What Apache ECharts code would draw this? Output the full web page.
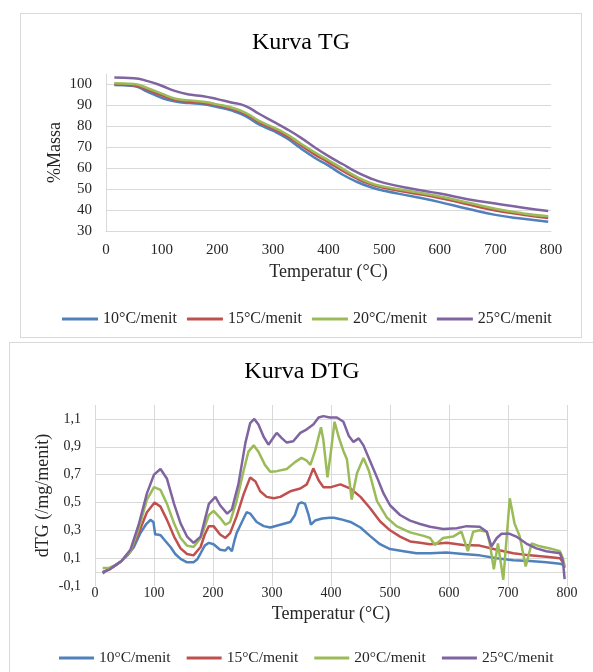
<!DOCTYPE html>
<html>
<head>
<meta charset="utf-8">
<script src="https://cdn.jsdelivr.net/npm/echarts@6/dist/echarts.min.js"></script>
<style>
  html, body { margin: 0; padding: 0; background: #fff; overflow: hidden; }
  .box { position: absolute; border: 1px solid #d9d9d9; background: #fff; }
  #tg { left: 20px; top: 13px; width: 560px; height: 323px; }
  #dtg { left: 9px; top: 342px; width: 584px; height: 340px; }
</style>
</head>
<body>
<div id="tg" class="box"></div>
<div id="dtg" class="box"></div>
<script>
const serif = 'Liberation Serif'
const names = ['10°C/menit', '15°C/menit', '20°C/menit', '25°C/menit']
const colors = ['#4F81BD', '#C0504D', '#9BBB59', '#8064A2']

// TG curve (% mass vs temperature)
const tgTemp = [15, 50, 75, 100, 125, 150, 175, 200, 225, 250, 275, 300, 325, 350, 375, 400, 425, 450, 475, 500, 550, 600, 650, 700, 750, 795]
const tg10 = [99.8, 99.3, 96.5, 93.6, 91.8, 91.1, 90.5, 89.2, 87.6, 85.0, 80.9, 77.9, 74.3, 69.5, 65.0, 61.2, 57.0, 53.6, 51.0, 49.2, 46.6, 43.8, 40.6, 37.7, 35.8, 34.4]
const tg15 = [100.0, 99.6, 97.4, 94.8, 92.6, 91.8, 91.2, 90.0, 88.4, 86.0, 82.0, 78.9, 75.4, 71.0, 66.6, 62.8, 58.8, 55.2, 52.4, 50.6, 48.2, 45.8, 42.8, 39.8, 37.8, 36.2]
const tg20 = [100.6, 100.2, 98.2, 95.6, 93.2, 92.4, 91.7, 90.5, 89.0, 86.6, 82.6, 79.6, 76.2, 71.8, 67.6, 63.8, 59.8, 56.0, 53.0, 51.2, 48.9, 46.5, 43.6, 40.6, 38.4, 37.0]
const tg25 = [103.3, 103.0, 101.6, 99.4, 96.8, 95.2, 94.4, 93.0, 91.4, 89.8, 86.0, 82.4, 78.7, 74.6, 70.0, 65.8, 62.0, 58.2, 55.2, 53.0, 50.2, 47.9, 45.2, 43.1, 41.1, 39.6]

// DTG curve, each rate read at its own temperatures
const dtgT10 = [13, 25, 35, 45, 55, 66, 77, 86, 94, 99, 102, 106, 111, 120, 128, 136, 145, 156, 167, 173, 179, 186, 193, 201, 212, 221, 226, 229, 232, 236, 240, 249, 257, 263, 274, 286, 297, 314, 331, 339, 345, 350, 356, 362, 366, 373, 385, 398, 405, 416, 433, 450, 466, 483, 500, 523, 545, 568, 596, 624, 652, 681, 709, 737, 765, 788, 793, 796]
const dtg10 = [-0.01, 0.03, 0.05, 0.08, 0.12, 0.18, 0.28, 0.34, 0.375, 0.36, 0.27, 0.27, 0.265, 0.22, 0.18, 0.13, 0.095, 0.07, 0.07, 0.09, 0.135, 0.19, 0.21, 0.2, 0.16, 0.155, 0.18, 0.17, 0.15, 0.22, 0.28, 0.36, 0.43, 0.42, 0.36, 0.33, 0.32, 0.34, 0.36, 0.41, 0.49, 0.5, 0.49, 0.41, 0.34, 0.37, 0.385, 0.39, 0.39, 0.38, 0.36, 0.32, 0.26, 0.2, 0.165, 0.15, 0.135, 0.135, 0.14, 0.13, 0.12, 0.1, 0.085, 0.08, 0.07, 0.06, 0.055, 0.04]

const dtgT15 = [13, 25, 35, 45, 60, 74, 88, 101, 111, 122, 134, 145, 156, 167, 179, 186, 193, 201, 212, 221, 229, 240, 252, 263, 272, 280, 291, 303, 314, 331, 348, 359, 364, 370, 379, 387, 400, 416, 433, 450, 466, 483, 500, 517, 534, 551, 568, 596, 624, 652, 681, 709, 737, 765, 788, 793, 796]
const dtg15 = [0.0, 0.02, 0.05, 0.08, 0.15, 0.28, 0.43, 0.5, 0.47, 0.375, 0.255, 0.17, 0.13, 0.12, 0.18, 0.27, 0.33, 0.33, 0.27, 0.245, 0.28, 0.4, 0.56, 0.68, 0.65, 0.58, 0.54, 0.53, 0.54, 0.58, 0.6, 0.63, 0.68, 0.745, 0.66, 0.61, 0.61, 0.63, 0.6, 0.54, 0.46, 0.365, 0.3, 0.255, 0.22, 0.21, 0.2, 0.21, 0.195, 0.19, 0.16, 0.135, 0.12, 0.11, 0.1, 0.07, 0.03]

const dtgT20 = [13, 25, 35, 45, 60, 74, 88, 100, 111, 122, 134, 145, 156, 167, 179, 193, 201, 212, 221, 229, 240, 252, 260, 269, 277, 288, 297, 308, 325, 339, 350, 359, 365, 373, 383, 387, 394, 400, 406, 413, 421, 427, 435, 444, 455, 464, 478, 495, 511, 534, 557, 568, 576, 590, 607, 621, 632, 641, 652, 664, 669, 676, 683, 692, 703, 711, 720, 730, 740, 754, 771, 788, 793, 796]
const dtg20 = [0.03, 0.03, 0.05, 0.08, 0.15, 0.31, 0.52, 0.61, 0.59, 0.49, 0.35, 0.245, 0.19, 0.18, 0.245, 0.41, 0.44, 0.39, 0.34, 0.36, 0.51, 0.73, 0.865, 0.91, 0.865, 0.77, 0.72, 0.725, 0.74, 0.79, 0.82, 0.8, 0.77, 0.87, 1.04, 0.95, 0.68, 0.87, 1.08, 0.97, 0.87, 0.81, 0.52, 0.71, 0.82, 0.73, 0.51, 0.39, 0.33, 0.285, 0.26, 0.245, 0.195, 0.245, 0.255, 0.29, 0.15, 0.29, 0.3, 0.29, 0.21, 0.02, 0.205, -0.055, 0.53, 0.35, 0.255, 0.04, 0.205, 0.185, 0.17, 0.15, 0.1, 0.04]

const dtgT25 = [13, 25, 35, 45, 60, 74, 88, 100, 111, 122, 134, 145, 156, 167, 179, 193, 204, 212, 224, 232, 243, 255, 263, 270, 277, 286, 294, 303, 308, 317, 325, 336, 348, 359, 370, 379, 387, 398, 410, 421, 430, 438, 447, 455, 466, 478, 489, 500, 517, 534, 551, 568, 590, 613, 630, 652, 664, 672, 681, 689, 703, 714, 731, 748, 765, 788, 793, 796]
const dtg25 = [0.0, 0.02, 0.05, 0.08, 0.16, 0.34, 0.565, 0.7, 0.74, 0.67, 0.49, 0.35, 0.255, 0.21, 0.255, 0.49, 0.54, 0.48, 0.42, 0.45, 0.63, 0.93, 1.07, 1.1, 1.06, 0.97, 0.915, 0.97, 1.0, 0.96, 0.93, 0.94, 1.0, 1.025, 1.06, 1.11, 1.12, 1.11, 1.11, 1.08, 0.98, 0.935, 0.96, 0.91, 0.8, 0.68, 0.565, 0.48, 0.41, 0.37, 0.345, 0.325, 0.31, 0.315, 0.33, 0.325, 0.29, 0.185, 0.245, 0.275, 0.275, 0.255, 0.205, 0.17, 0.15, 0.135, 0.08, -0.05]

const pairs = (t, v) => t.map((x, i) => [x, v[i]])
const comma = v => v.toFixed(1).replace('.', ',')

const lineSeries = (sets, smooth) => sets.map((d, i) => ({
  name: names[i],
  type: 'line',
  data: d,
  smooth: smooth,
  symbol: 'none',
  lineStyle: { width: 2.5, color: colors[i] },
  itemStyle: { color: colors[i] }
}))

const legendOf = (top, left, width, gap, size) => ({
  data: names,
  top: top,
  left: left,
  padding: 0,
  icon: 'rect',
  itemWidth: width,
  itemHeight: 3,
  itemGap: gap,
  textStyle: { fontFamily: serif, fontSize: size, color: '#262626' }
})

const tgChart = echarts.init(document.getElementById('tg'))
tgChart.setOption({
  animation: false,
  title: {
    text: 'Kurva TG', left: 'center', top: 12,
    textStyle: { fontFamily: serif, fontSize: 24, fontWeight: 'normal', color: '#000' }
  },
  legend: legendOf(297, 41, 36, 10, 16),
  grid: { left: 85, right: 30, top: 60, bottom: 106 },
  xAxis: {
    type: 'value', min: 0, max: 800, interval: 100,
    name: 'Temperatur (°C)', nameLocation: 'middle', nameGap: 32,
    nameTextStyle: { fontFamily: serif, fontSize: 18, color: '#262626' },
    axisLine: { show: true, lineStyle: { color: '#d9d9d9' } },
    axisTick: { show: false },
    splitLine: { show: false },
    axisLabel: { fontFamily: serif, fontSize: 15, color: '#262626', margin: 12 }
  },
  yAxis: {
    type: 'value', min: 30, max: 105, interval: 10,
    name: '%Massa', nameLocation: 'middle', nameGap: 42, nameMoveOverlap: false,
    nameTextStyle: { fontFamily: serif, fontSize: 18, color: '#262626' },
    axisLine: { show: true, lineStyle: { color: '#d9d9d9' } },
    axisTick: { show: false },
    splitLine: { show: true, showMaxLine: false, lineStyle: { color: '#d9d9d9' } },
    axisLabel: { fontFamily: serif, fontSize: 15, color: '#262626', margin: 14, showMaxLabel: false }
  },
  series: lineSeries([
    pairs(tgTemp, tg10), pairs(tgTemp, tg15), pairs(tgTemp, tg20), pairs(tgTemp, tg25)
  ], true)
})

const dtgSeries = lineSeries([
  pairs(dtgT10, dtg10), pairs(dtgT15, dtg15), pairs(dtgT20, dtg20), pairs(dtgT25, dtg25)
], false)
// zero line of the value axis, drawn under the curves
dtgSeries.unshift({
  type: 'line', data: [], z: 1,
  markLine: {
    silent: true, symbol: 'none', z: 1,
    label: { show: false },
    lineStyle: { color: '#d9d9d9', width: 1, type: 'solid' },
    data: [{ yAxis: 0 }]
  }
})

const dtgChart = echarts.init(document.getElementById('dtg'))
dtgChart.setOption({
  animation: false,
  title: {
    text: 'Kurva DTG', left: 'center', top: 12,
    textStyle: { fontFamily: serif, fontSize: 24, fontWeight: 'normal', color: '#000' }
  },
  legend: legendOf(307, 49, 35, 16, 15.5),
  grid: { left: 85, right: 27, top: 62, bottom: 97 },
  xAxis: {
    type: 'value', min: 0, max: 800, interval: 100,
    name: 'Temperatur (°C)', nameLocation: 'middle', nameGap: 17,
    nameTextStyle: { fontFamily: serif, fontSize: 18, color: '#262626' },
    axisLine: { show: false, onZero: false },
    axisTick: { show: false },
    splitLine: { show: true, lineStyle: { color: '#d9d9d9' } },
    axisLabel: { fontFamily: serif, fontSize: 14, color: '#262626', margin: 0 }
  },
  yAxis: {
    type: 'value', min: -0.1, max: 1.2, interval: 0.2,
    name: 'dTG (/mg/menit)', nameLocation: 'middle', nameGap: 43, nameMoveOverlap: false,
    nameTextStyle: { fontFamily: serif, fontSize: 18, color: '#262626' },
    axisLine: { show: false },
    axisTick: { show: false },
    splitLine: { show: true, showMinLine: false, showMaxLine: false, lineStyle: { color: '#d9d9d9' } },
    axisLabel: { fontFamily: serif, fontSize: 14, color: '#262626', margin: 14, showMaxLabel: false, formatter: comma }
  },
  series: dtgSeries
})
</script>
</body>
</html>
